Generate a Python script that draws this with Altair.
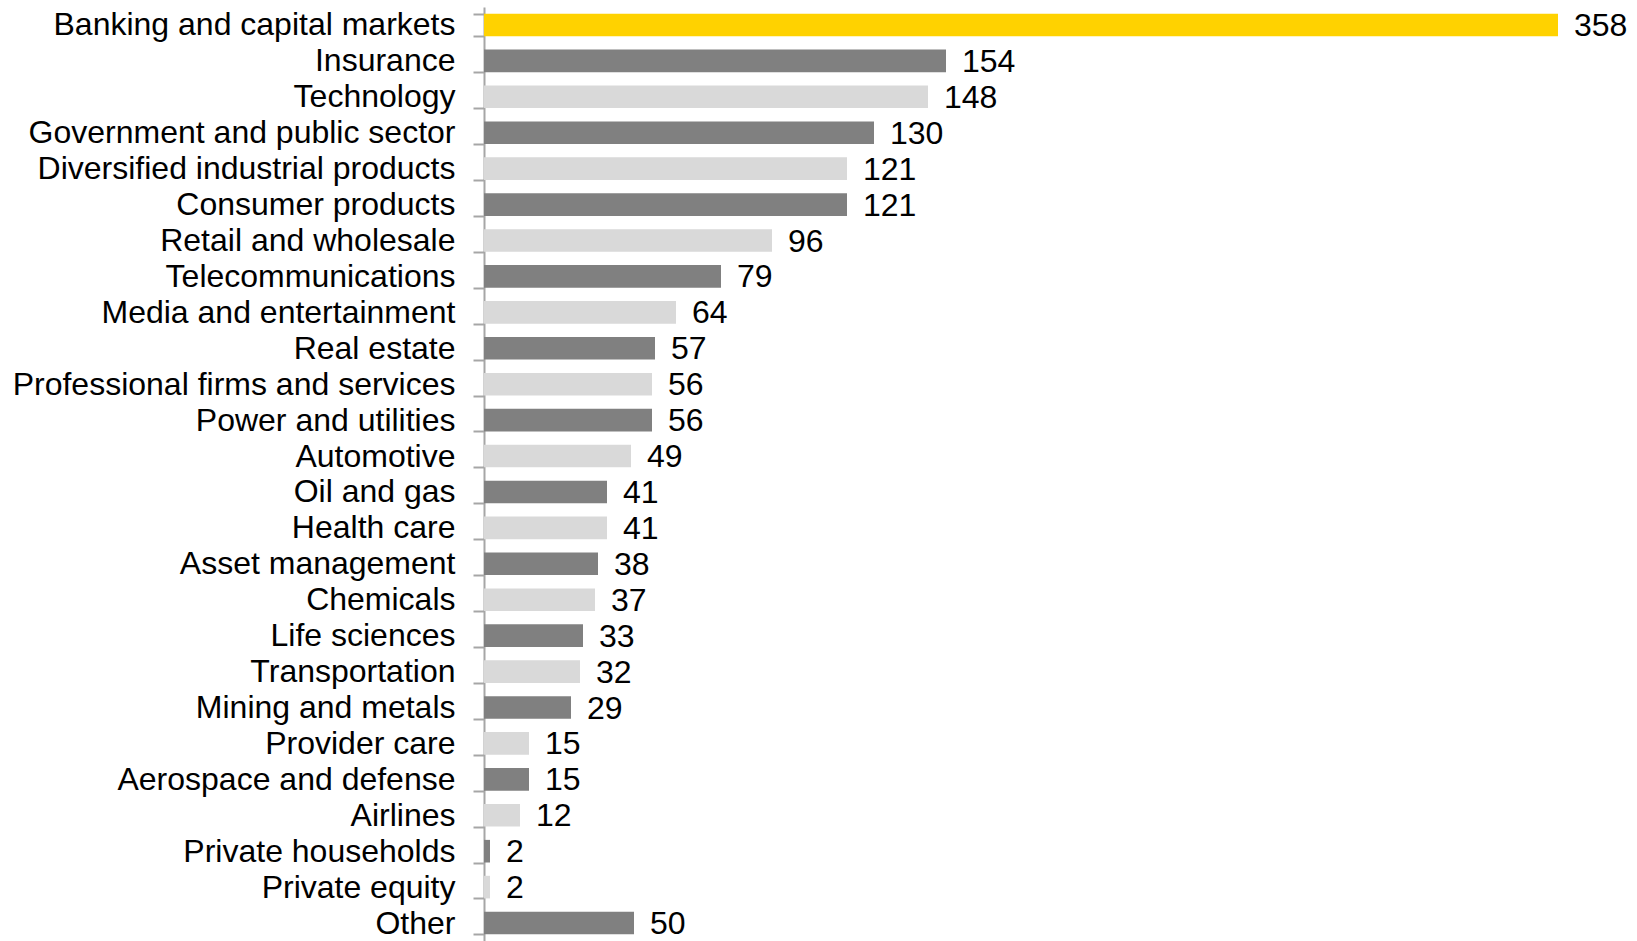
import altair as alt
import pandas as pd

categories = [
    "Banking and capital markets", "Insurance", "Technology",
    "Government and public sector", "Diversified industrial products",
    "Consumer products", "Retail and wholesale", "Telecommunications",
    "Media and entertainment", "Real estate", "Professional firms and services",
    "Power and utilities", "Automotive", "Oil and gas", "Health care",
    "Asset management", "Chemicals", "Life sciences", "Transportation",
    "Mining and metals", "Provider care", "Aerospace and defense", "Airlines",
    "Private households", "Private equity", "Other",
]
values = [358, 154, 148, 130, 121, 121, 96, 79, 64, 57, 56, 56, 49, 41, 41,
          38, 37, 33, 32, 29, 15, 15, 12, 2, 2, 50]
shade = ["highlight"] + ["dark" if i % 2 == 1 else "light" for i in range(1, 26)]

df = pd.DataFrame({"category": categories, "value": values, "shade": shade})

FONT = "Liberation Sans"

y_scale = alt.Scale(paddingInner=0.37, paddingOuter=0.185, range=[0, 934])

y = alt.Y("category:N", sort=categories, title=None, scale=y_scale,
          axis=alt.Axis(tickBand="extent", grid=False, domainColor="#a6a6a6", domainWidth=2,
                        tickColor="#a6a6a6", tickWidth=2, tickSize=11,
                        labelPadding=18, labelFont=FONT, labelFontSize=32,
                        labelColor="#000000", labelLimit=700))
x = alt.X("value:Q", title=None, axis=None, scale=alt.Scale(domain=[0, 380]))

bars = alt.Chart(df).mark_bar().encode(
    y=y, x=x,
    color=alt.Color("shade:N", legend=None,
                    scale=alt.Scale(domain=["highlight", "dark", "light"],
                                    range=["#FFD200", "#808080", "#D9D9D9"])),
)
labels = alt.Chart(df).mark_text(align="left", baseline="middle", dx=16, dy=1,
                                 font=FONT, fontSize=32, color="#000000").encode(
    y=alt.Y("category:N", sort=categories), x=x, text="value:Q")

chart = (bars + labels).properties(
    width=1140, height=934,
    background="white",
    padding={"left": 484, "top": 7, "right": 13, "bottom": 0},
    autosize=alt.AutoSizeParams(type="none"),
).configure_view(strokeWidth=0, stroke=None)

chart.save("out.html", embed_options={"renderer": "svg", "actions": False})
